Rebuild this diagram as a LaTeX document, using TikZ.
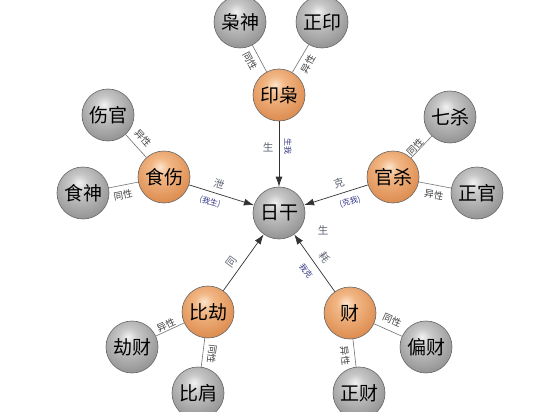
\documentclass[tikz,border=0pt]{standalone}
\usepackage{fontspec}
\newfontfamily\cjk{Noto Sans CJK SC}
\usetikzlibrary{arrows.meta,shadings}
\definecolor{inkblue}{RGB}{55,55,135}
\definecolor{actc}{RGB}{95,100,115}
\definecolor{gA}{RGB}{242,242,242}
\definecolor{gB}{RGB}{200,200,200}
\definecolor{gC}{RGB}{150,150,150}
\definecolor{gD}{RGB}{100,100,100}
\definecolor{gE}{RGB}{80,80,80}
\definecolor{oA}{RGB}{252,228,205}
\definecolor{oB}{RGB}{242,184,134}
\definecolor{oC}{RGB}{222,142,82}
\definecolor{oD}{RGB}{178,98,46}
\definecolor{oE}{RGB}{140,76,36}
\pgfdeclareradialshading{grayball}{\pgfpoint{-4bp}{10bp}}{color(0bp)=(gA); color(9bp)=(gB); color(30bp)=(gC); color(50bp)=(gD); color(60bp)=(gE); color(80bp)=(gE)}
\pgfdeclareradialshading{orangeball}{\pgfpoint{-4bp}{10bp}}{color(0bp)=(oA); color(9bp)=(oB); color(30bp)=(oC); color(50bp)=(oD); color(60bp)=(oE); color(80bp)=(oE)}
\begin{document}
\begin{tikzpicture}[x=1pt,y=-1pt,
  ballnode/.style={circle, minimum size=52pt, inner sep=0pt, draw=black!60, line width=0.6pt,
    font=\cjk\fontsize{19}{19}\selectfont},
  hubnode/.style={ballnode, shading=orangeball},
  leafnode/.style={ballnode, shading=grayball},
  centernode/.style={ballnode, shading=grayball},
  mainedge/.style={draw=black!80, line width=0.7pt, -{Latex[length=10pt,width=7pt]}},
  subedge/.style={draw=black!55, line width=0.6pt},
  rel/.style={font=\cjk\fontsize{9.5}{9.5}\selectfont, text=black!75, inner sep=0pt},
  blu/.style={font=\cjk\fontsize{8}{8}\selectfont, text=inkblue, inner sep=0pt},
  act/.style={font=\cjk\fontsize{10.5}{10.5}\selectfont, text=actc, inner sep=0pt}
]
\useasboundingbox[fill=white] (0,0) rectangle (550,412);

% nodes
\node[centernode] (rg) at (279,213) {日干};
\node[hubnode] (yx) at (279,95) {印枭};
\node[leafnode] (xs) at (240,22) {枭神};
\node[leafnode] (zy) at (322,22) {正印};
\node[hubnode] (ss) at (164,177) {食伤};
\node[leafnode] (sg) at (108,115) {伤官};
\node[leafnode] (sh) at (83,193) {食神};
\node[hubnode] (gs) at (393,177) {官杀};
\node[leafnode] (qs) at (450,117) {七杀};
\node[leafnode] (zg) at (477,193) {正官};
\node[hubnode] (bj) at (208,312) {比劫};
\node[leafnode] (jc) at (132,347) {劫财};
\node[leafnode] (bk) at (198,393) {比肩};
\node[hubnode] (cai) at (350,313) {财};
\node[leafnode] (pc) at (426,347) {偏财};
\node[leafnode] (zc) at (359,393) {正财};

% sub edges
\draw[subedge] (xs) -- (yx);
\draw[subedge] (zy) -- (yx);
\draw[subedge] (sg) -- (ss);
\draw[subedge] (sh) -- (ss);
\draw[subedge] (qs) -- (gs);
\draw[subedge] (zg) -- (gs);
\draw[subedge] (jc) -- (bj);
\draw[subedge] (bk) -- (bj);
\draw[subedge] (pc) -- (cai);
\draw[subedge] (zc) -- (cai);

% main edges
\draw[mainedge] (yx) -- (rg);
\draw[mainedge] (ss) -- (rg);
\draw[mainedge] (gs) -- (rg);
\draw[mainedge] (bj) -- (rg);
\draw[mainedge] (cai) -- (rg);

% sub edge labels
\node[rel, rotate=-62] (t1) at (250,61) {同性};
\node[rel, rotate=60] (t2) at (308,64) {异性};
\node[rel, rotate=-48] (t3) at (143,138) {异性};
\node[rel, rotate=10] (t4) at (123,195) {同性};
\node[rel, rotate=46] (t5) at (415,147) {同性};
\node[rel, rotate=-11] (t6) at (434,195) {异性};
\node[rel, rotate=25] (t7) at (166,325) {异性};
\node[rel, rotate=-97] (t8) at (212,354) {同性};
\node[rel, rotate=-24] (t9) at (392,320) {同性};
\node[rel, rotate=-84] (t10) at (345,356) {异性};

% main edge labels
\node[act] (a1) at (268,147) {生};
\node[blu, rotate=-90] (b1) at (288,147) {生我};
\node[act, rotate=-17] (a2) at (219,184) {泄};
\node[blu, rotate=-17] (b2) at (210,202) {(我生)};
\node[act, rotate=17] (a3) at (339,183) {克};
\node[blu, rotate=17] (b3) at (350,202) {(克我)};
\node[act] (a4) at (323,230) {生};
\node[act, rotate=54] (a5) at (232,262) {同};
\node[act, rotate=-55] (a6) at (325,258) {耗};
\node[blu, rotate=-55] (b6) at (306,271) {我克};
\end{tikzpicture}
\end{document}
